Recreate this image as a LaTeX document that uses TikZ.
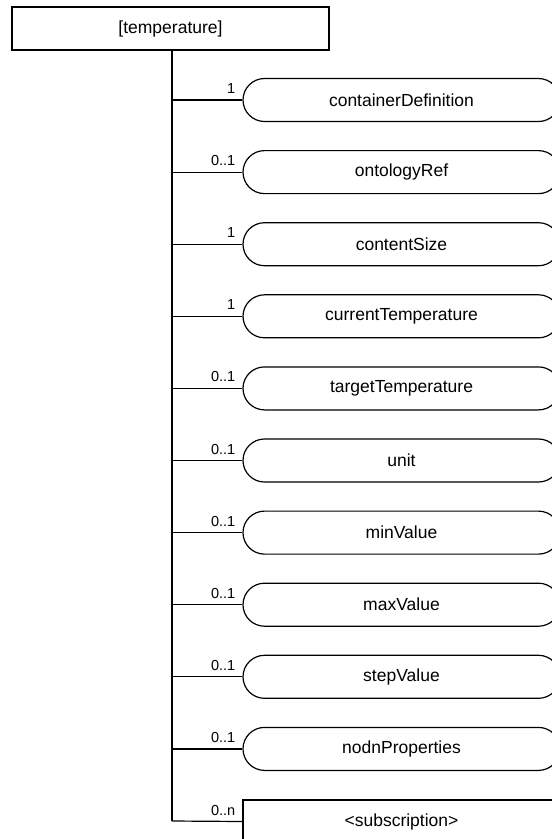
\documentclass[tikz,border=0pt]{standalone}
\usepackage{fontspec}
\setmainfont{Liberation Sans}
\usetikzlibrary{shapes.misc}

\tikzset{
	kasten/.style={draw=black, line width=1.2pt, minimum width=317pt, minimum height=43pt,
		inner sep=0pt, font=\fontsize{17.5}{20}\selectfont},
	pille/.style={kasten, rounded rectangle},
	linie/.style={draw=black, line width=1.2pt},
	mult/.style={inner sep=0pt, anchor=base east, font=\fontsize{14.5}{17}\selectfont}
}

\begin{document}
\begin{tikzpicture}[x=1pt, y=-1pt]
	\useasboundingbox (0,0) rectangle (552,839);
	\clip (0,0) rectangle (552,839);
	% Wurzel und Stamm
	\node[kasten] (wurzel) at (170.5, 28.5) {[temperature]};
	\coordinate (ende) at (172, 821);
	\draw[linie] (ende |- wurzel.south) -- (ende);
	% Kindelemente
	\foreach \txt/\zahl [count=\i from 0] in {containerDefinition/1, ontologyRef/0..1,
		contentSize/1, currentTemperature/1, targetTemperature/0..1, unit/0..1,
		minValue/0..1, maxValue/0..1, stepValue/0..1, nodnProperties/0..1}
	{
		\pgfmathsetmacro{\ypos}{100 + 72.1*\i}
		\node[pille] (kind\i) at (401.5, \ypos) {\txt};
		\draw[linie] (ende |- kind\i.west) -- (kind\i.west);
		\node[mult] (zahl\i) at ([xshift=-7pt, yshift=6.5pt]kind\i.west) {\zahl};
	}
	% Abonnement
	\node[kasten] (abo) at (401.5, 821.5) {<subscription>};
	\draw[linie] (ende) -- (abo.west);
	\node[mult] (zahlabo) at ([xshift=-7pt, yshift=6.5pt]abo.west) {0..n};
\end{tikzpicture}
\end{document}
